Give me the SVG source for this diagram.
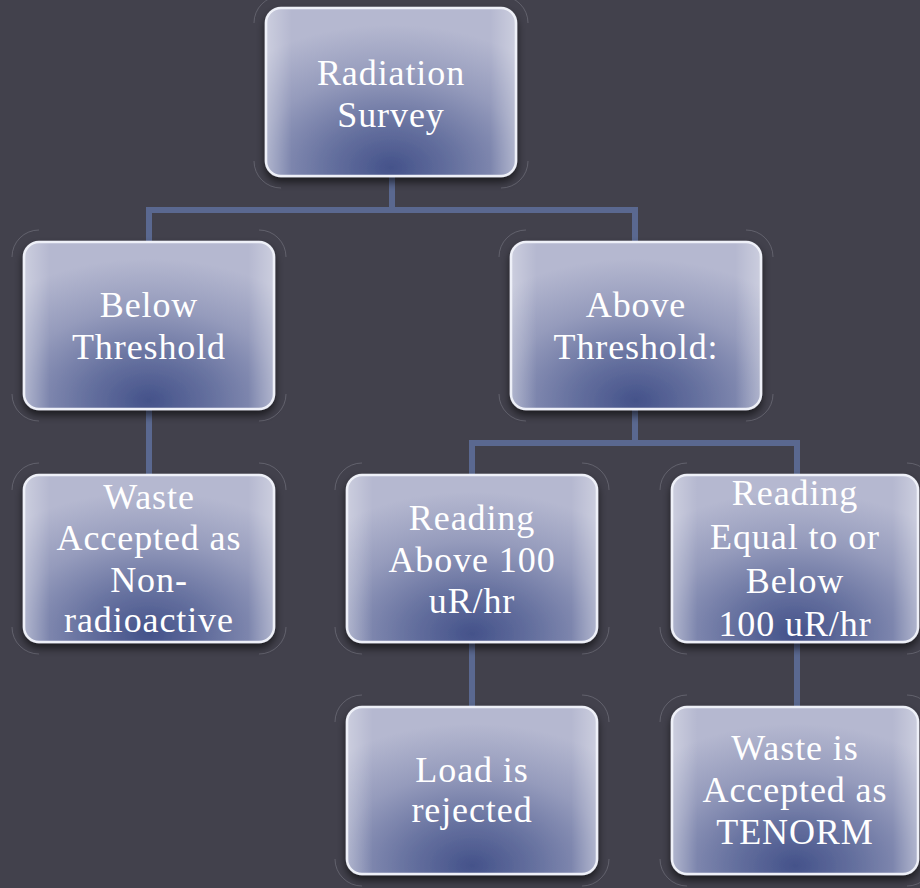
<svg xmlns="http://www.w3.org/2000/svg" width="920" height="888" viewBox="0 0 920 888">
<defs>
<radialGradient id="boxfill" cx="0.5" cy="0.95" r="0.85" fx="0.5" fy="0.95">
<stop offset="0" stop-color="#44528a"/>
<stop offset="0.3" stop-color="#66719f"/>
<stop offset="0.65" stop-color="#959bbc"/>
<stop offset="1" stop-color="#b5b8d0"/>
</radialGradient>
<linearGradient id="edgehl" x1="0" y1="0" x2="1" y2="0">
<stop offset="0" stop-color="#ffffff" stop-opacity="0.3"/>
<stop offset="0.1" stop-color="#ffffff" stop-opacity="0"/>
<stop offset="0.9" stop-color="#ffffff" stop-opacity="0"/>
<stop offset="1" stop-color="#ffffff" stop-opacity="0.3"/>
</linearGradient>
<filter id="shadow" x="-10%" y="-10%" width="120%" height="130%">
<feGaussianBlur in="SourceAlpha" stdDeviation="4"/>
<feOffset dx="0" dy="5" result="b"/>
<feComponentTransfer><feFuncA type="linear" slope="0.6"/></feComponentTransfer>
<feMerge><feMergeNode/><feMergeNode in="SourceGraphic"/></feMerge>
</filter>
</defs>
<style>
.bg{fill:#42414c}
.box{fill:url(#boxfill);stroke:#eef0f8;stroke-width:2.5}
.hl{fill:url(#edgehl);stroke:none}
.arc{fill:none;stroke:#7c7c86;stroke-width:1;stroke-opacity:0.55}
.conn{fill:none;stroke:#5a6890;stroke-width:6}
text{font-family:"Liberation Serif","Times New Roman",serif;font-size:36px;fill:#ffffff;text-anchor:middle;letter-spacing:0.9px}
</style>
<rect class="bg" x="0" y="0" width="920" height="888"/>

<g id="connectors">
<path class="conn" d="M392 176 V210 M149 409 V210 H635 V241"/>
<path class="conn" d="M149 409 V475"/>
<path class="conn" d="M635 409 V443 M472 475 V443 H797 V475"/>
<path class="conn" d="M472 642 V707"/>
<path class="conn" d="M797 642 V707"/>
</g>

<g id="n-survey">
<path class="arc" d="M254 23 A27 27 0 0 1 281 -4 M501 -4 A27 27 0 0 1 528 23 M528 161 A27 27 0 0 1 501 188 M281 188 A27 27 0 0 1 254 161"/>
<rect class="box" x="266" y="8" width="250" height="168" rx="15" filter="url(#shadow)"/>
<rect class="hl" x="267" y="9" width="248" height="166" rx="14"/>
<text x="391" y="85">Radiation</text>
<text x="391" y="127">Survey</text>
</g>

<g id="n-below">
<path class="arc" d="M12 257 A27 27 0 0 1 39 230 M259 230 A27 27 0 0 1 286 257 M286 394 A27 27 0 0 1 259 421 M39 421 A27 27 0 0 1 12 394"/>
<rect class="box" x="24" y="242" width="250" height="167" rx="15" filter="url(#shadow)"/>
<rect class="hl" x="25" y="243" width="248" height="165" rx="14"/>
<text x="149" y="317">Below</text>
<text x="149" y="359">Threshold</text>
</g>

<g id="n-above">
<path class="arc" d="M499 257 A27 27 0 0 1 526 230 M746 230 A27 27 0 0 1 773 257 M773 394 A27 27 0 0 1 746 421 M526 421 A27 27 0 0 1 499 394"/>
<rect class="box" x="511" y="242" width="250" height="167" rx="15" filter="url(#shadow)"/>
<rect class="hl" x="512" y="243" width="248" height="165" rx="14"/>
<text x="636" y="317">Above</text>
<text x="636" y="359">Threshold:</text>
</g>

<g id="n-nonrad">
<path class="arc" d="M12 490 A27 27 0 0 1 39 463 M259 463 A27 27 0 0 1 286 490 M286 627 A27 27 0 0 1 259 654 M39 654 A27 27 0 0 1 12 627"/>
<rect class="box" x="24" y="475" width="250" height="167" rx="15" filter="url(#shadow)"/>
<rect class="hl" x="25" y="476" width="248" height="165" rx="14"/>
<text x="149" y="509">Waste</text>
<text x="149" y="550">Accepted as</text>
<text x="149" y="592">Non-</text>
<text x="149" y="632">radioactive</text>
</g>

<g id="n-above100">
<path class="arc" d="M335 490 A27 27 0 0 1 362 463 M582 463 A27 27 0 0 1 609 490 M609 627 A27 27 0 0 1 582 654 M362 654 A27 27 0 0 1 335 627"/>
<rect class="box" x="347" y="475" width="250" height="167" rx="15" filter="url(#shadow)"/>
<rect class="hl" x="348" y="476" width="248" height="165" rx="14"/>
<text x="472" y="530">Reading</text>
<text x="472" y="572">Above 100</text>
<text x="472" y="613">uR/hr</text>
</g>

<g id="n-below100">
<path class="arc" d="M660 490 A27 27 0 0 1 687 463 M907 463 A27 27 0 0 1 934 490 M934 627 A27 27 0 0 1 907 654 M687 654 A27 27 0 0 1 660 627"/>
<rect class="box" x="672" y="475" width="246" height="167" rx="15" filter="url(#shadow)"/>
<rect class="hl" x="673" y="476" width="244" height="165" rx="14"/>
<text x="795" y="505">Reading</text>
<text x="795" y="549">Equal to or</text>
<text x="795" y="593">Below</text>
<text x="795" y="636">100 uR/hr</text>
</g>

<g id="n-rejected">
<path class="arc" d="M335 722 A27 27 0 0 1 362 695 M582 695 A27 27 0 0 1 609 722 M609 859 A27 27 0 0 1 582 886 M362 886 A27 27 0 0 1 335 859"/>
<rect class="box" x="347" y="707" width="250" height="167" rx="15" filter="url(#shadow)"/>
<rect class="hl" x="348" y="708" width="248" height="165" rx="14"/>
<text x="472" y="782">Load is</text>
<text x="472" y="822">rejected</text>
</g>

<g id="n-tenorm">
<path class="arc" d="M660 722 A27 27 0 0 1 687 695 M907 695 A27 27 0 0 1 934 722 M934 859 A27 27 0 0 1 907 886 M687 886 A27 27 0 0 1 660 859"/>
<rect class="box" x="672" y="707" width="246" height="167" rx="15" filter="url(#shadow)"/>
<rect class="hl" x="673" y="708" width="244" height="165" rx="14"/>
<text x="795" y="760">Waste is</text>
<text x="795" y="802">Accepted as</text>
<text x="795" y="844">TENORM</text>
</g>
</svg>
